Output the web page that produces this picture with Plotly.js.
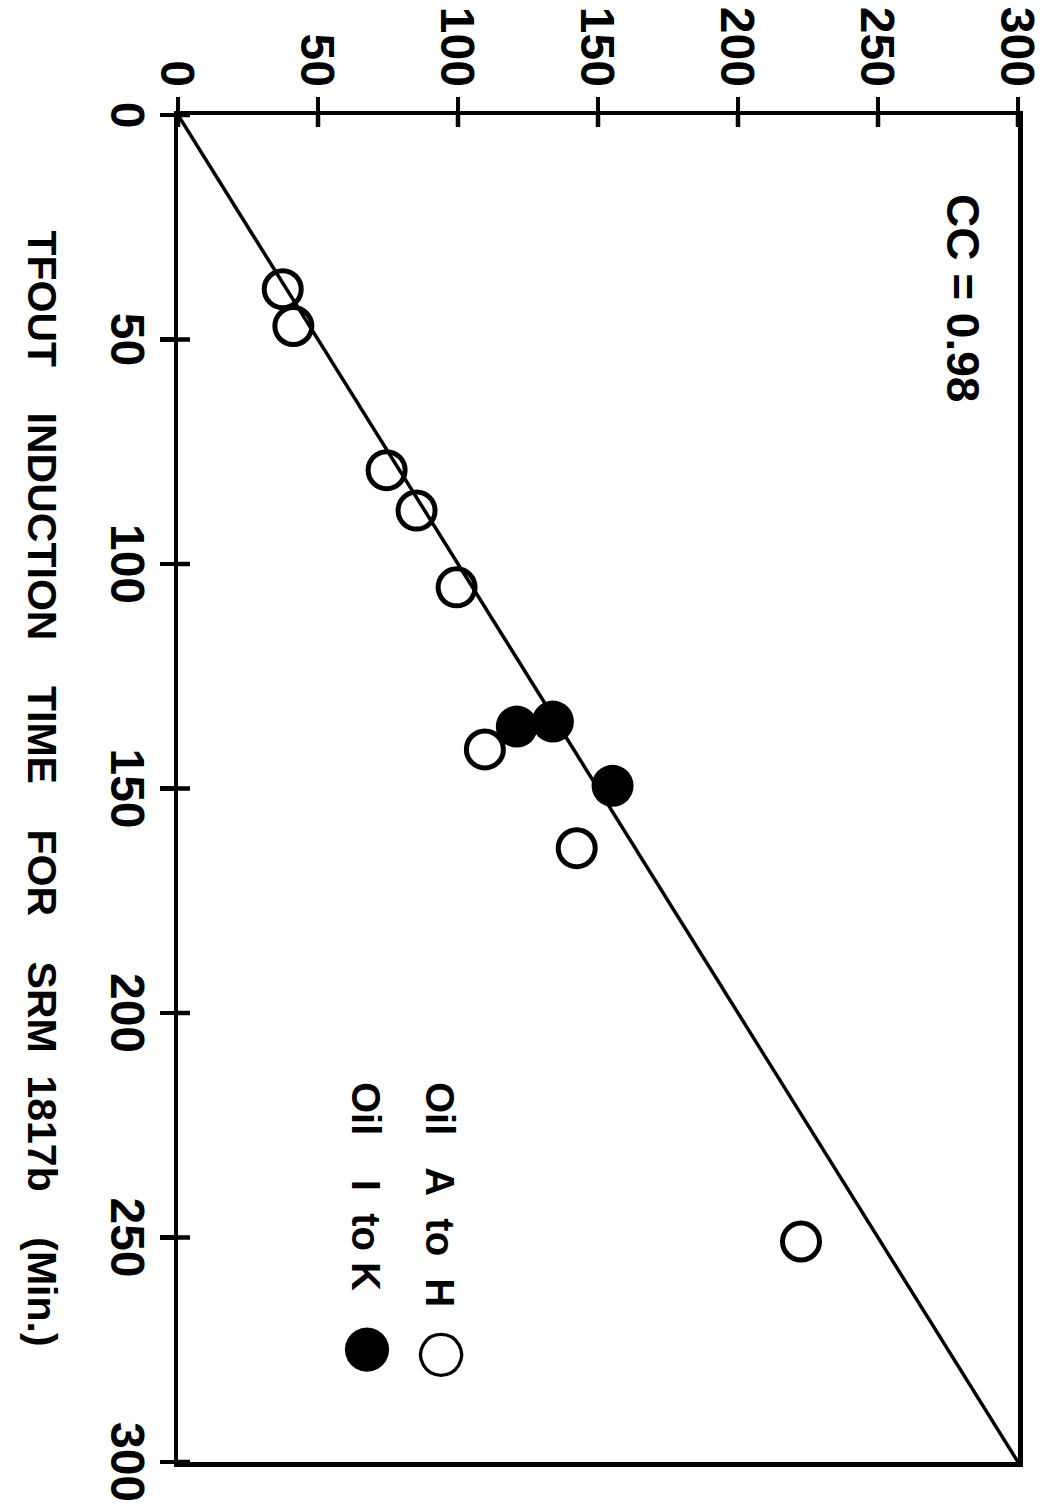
<!DOCTYPE html>
<html>
<head>
<meta charset="utf-8">
<script src="https://cdn.plot.ly/plotly-3.0.1.min.js"></script>
<style>
  html, body { margin: 0; padding: 0; background: #ffffff; overflow: hidden; width: 1047px; height: 1511px; }
  #wrap { position: absolute; left: 0; top: 0; width: 1511px; height: 1047px; transform-origin: 0 0; }
</style>
</head>
<body>
<div id="wrap"></div>
<script>
// Data (x: TFOUT induction time for SRM 1817b, y: other method)
const oilsAtoH_x = [38.8, 47.0, 79.1, 88.1, 105.2, 141.3, 163.3, 250.9];
const oilsAtoH_y = [37.4, 41.2, 74.5, 85.2, 99.5, 109.6, 142.4, 222.5];
const oilsItoK_x = [136.2, 135.1, 149.4];
const oilsItoK_y = [121.0, 133.9, 155.2];
const lineX = [0, 300];
const lineY = [0, 300];
const tickValues = [0, 50, 100, 150, 200, 250, 300];
const tickLabels = ["0", "50", "100", "150", "200", "250", "300"];
const xTitle = "TFOUT\u00a0\u00a0\u00a0 INDUCTION\u00a0\u00a0\u00a0 TIME\u00a0\u00a0\u00a0 FOR\u00a0\u00a0\u00a0 SRM\u00a0 1817b\u00a0\u00a0\u00a0 (Min.)";
const ccText = "CC = 0.98";
const legendNames = ["Oil\u00a0\u00a0 A\u00a0 to\u00a0 H\u00a0", "Oil\u00a0\u00a0\u00a0 I\u00a0 to K\u00a0\u00a0"];
const legendSymbols = ["\u25CB", "\u25CF"];

const FAM = "Liberation Sans, Arial, sans-serif";

const W = 1511, H = 1047;
const M = { l: 115, r: 49, t: 29, b: 178 };
const plotW = W - M.l - M.r, plotH = H - M.t - M.b;
const INNER = 12;

const traces = [
  { x: lineX, y: lineY, mode: 'lines', type: 'scatter',
    line: { color: 'black', width: 3.5 }, hoverinfo: 'skip', showlegend: false },
  { x: oilsAtoH_x, y: oilsAtoH_y, mode: 'markers', type: 'scatter', name: 'Oil A to H',
    marker: { symbol: 'circle-open', size: 37, color: 'black', line: { color: 'black', width: 5 } },
    showlegend: false },
  { x: oilsItoK_x, y: oilsItoK_y, mode: 'markers', type: 'scatter', name: 'Oil I to K',
    marker: { symbol: 'circle', size: 42, color: 'black', line: { width: 0 } },
    showlegend: false }
];

const axisBase = {
  range: [0, 300], tickmode: 'array', tickvals: tickValues, ticktext: tickLabels,
  showgrid: false, zeroline: false, showline: true, linecolor: 'black', linewidth: 4.5,
  mirror: true, ticks: 'outside', ticklen: 14, tickwidth: 4.5, tickcolor: 'black',
  tickfont: { family: FAM, size: 48, color: 'black', weight: 'bold' }, automargin: false, fixedrange: true
};

// inner halves of the crossing tick marks, placed at the tick values
const innerTicks = [];
tickValues.forEach(function (v) {
  innerTicks.push({ type: 'line', xref: 'x', yref: 'paper', x0: v, x1: v,
    y0: 0, y1: INNER / plotH, line: { color: 'black', width: 4.5 }, layer: 'above' });
  innerTicks.push({ type: 'line', xref: 'paper', yref: 'y', y0: v, y1: v,
    x0: 0, x1: INNER / plotW, line: { color: 'black', width: 4.5 }, layer: 'above' });
});

function legendText(i) {
  return legendNames[i] + " <span style=\"font-family:'DejaVu Sans';font-size:58px\">" + legendSymbols[i] + "</span>";
}

const layout = {
  width: W, height: H,
  margin: M,
  paper_bgcolor: 'white', plot_bgcolor: 'white',
  showlegend: false,
  font: { family: FAM, color: 'black' },
  xaxis: Object.assign({}, axisBase, {
    ticklabelstandoff: -9,
    title: { text: xTitle, font: { family: FAM, size: 41, color: 'black', weight: 'bold' }, standoff: 46 }
  }),
  yaxis: Object.assign({}, axisBase, {}),
  shapes: innerTicks,
  annotations: [
    { x: 40.8, y: 280.4, xref: 'x', yref: 'y', text: ccText, showarrow: false,
      xanchor: 'center', yanchor: 'middle',
      font: { family: FAM, size: 46, color: 'black', weight: 'bold' } },
    { x: 214.9, y: 95.7, xref: 'x', yref: 'y', text: legendText(0), showarrow: false,
      xanchor: 'left', yanchor: 'middle',
      font: { family: FAM, size: 40, color: 'black', weight: 'bold' } },
    { x: 214.9, y: 69.3, xref: 'x', yref: 'y', text: legendText(1), showarrow: false,
      xanchor: 'left', yanchor: 'middle',
      font: { family: FAM, size: 40, color: 'black', weight: 'bold' } }
  ]
};

Plotly.newPlot('wrap', traces, layout, { staticPlot: true, displayModeBar: false }).then(function () {
  document.getElementById('wrap').style.transform = 'translate(1047px, 0px) rotate(90deg)';
});
</script>
</body>
</html>
